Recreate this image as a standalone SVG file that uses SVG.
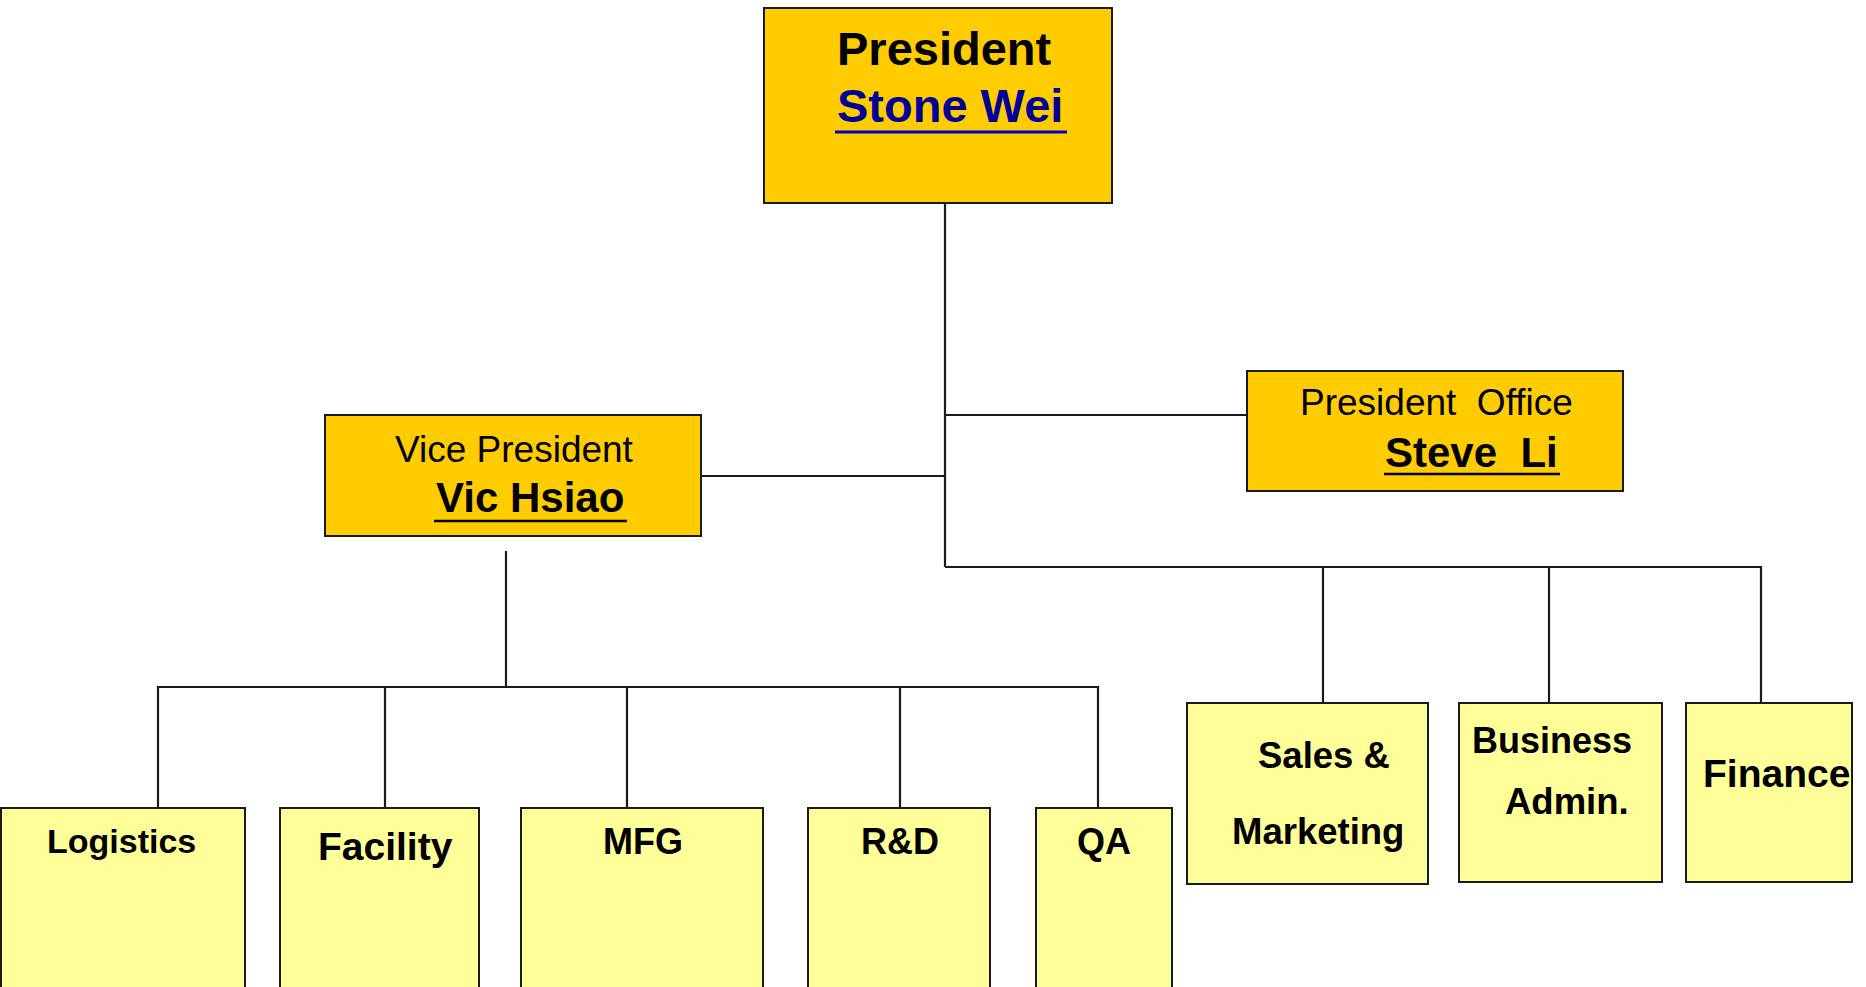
<svg xmlns="http://www.w3.org/2000/svg" width="1866" height="987" viewBox="0 0 1866 987">
<style>
.top{fill:#FFCC00;stroke:#1a1a1a;stroke-width:2}
.dept{fill:#FFFF99;stroke:#1a1a1a;stroke-width:2}
.c{fill:none;stroke:#1a1a1a;stroke-width:2.2}
text{font-family:"Liberation Sans",Arial,sans-serif;fill:#000}
.b{font-weight:bold}
.ul{stroke:#000;stroke-width:2.5}
</style>
<rect width="1866" height="987" fill="#fff"/>
<g id="connectors">
<path class="c" d="M945 203 V567"/>
<path class="c" d="M945 415 H1247"/>
<path class="c" d="M701 476 H945"/>
<path class="c" d="M945 567 H1761 V703"/>
<path class="c" d="M1323 567 V703"/>
<path class="c" d="M1549 567 V703"/>
<path class="c" d="M506 551 V687"/>
<path class="c" d="M158 808 V687 H1098 V808"/>
<path class="c" d="M385 687 V808"/>
<path class="c" d="M627 687 V808"/>
<path class="c" d="M900 687 V808"/>
</g>
<g id="president">
<rect class="top" x="764" y="8" width="348" height="195"/>
<text class="b" x="837" y="65" font-size="47">President</text>
<text class="b" x="837" y="122" font-size="47" style="fill:#000099">Stone Wei</text>
<line x1="835" y1="132" x2="1067" y2="132" stroke="#0000CC" stroke-width="3"/>
</g>
<g id="vice-president">
<rect class="top" x="325" y="415" width="376" height="121"/>
<text x="395" y="462" font-size="37">Vice President</text>
<text class="b" x="436" y="512" font-size="42">Vic Hsiao</text>
<line class="ul" x1="434" y1="521" x2="627" y2="521"/>
</g>
<g id="president-office">
<rect class="top" x="1247" y="371" width="376" height="120"/>
<text x="1300" y="415" font-size="37" xml:space="preserve">President  Office</text>
<text class="b" x="1385" y="467" font-size="42" xml:space="preserve">Steve  Li</text>
<line class="ul" x1="1384" y1="474" x2="1560" y2="474"/>
</g>
<g id="logistics">
<rect class="dept" x="1" y="808" width="244" height="200"/>
<text class="b" x="47" y="853" font-size="34">Logistics</text>
</g>
<g id="facility">
<rect class="dept" x="280" y="808" width="199" height="200"/>
<text class="b" x="318" y="860" font-size="39">Facility</text>
</g>
<g id="mfg">
<rect class="dept" x="521" y="808" width="242" height="200"/>
<text class="b" x="643" y="854" font-size="36" text-anchor="middle">MFG</text>
</g>
<g id="rd">
<rect class="dept" x="808" y="808" width="182" height="200"/>
<text class="b" x="900" y="854" font-size="36" text-anchor="middle">R&amp;D</text>
</g>
<g id="qa">
<rect class="dept" x="1036" y="808" width="136" height="200"/>
<text class="b" x="1104" y="854" font-size="36" text-anchor="middle">QA</text>
</g>
<g id="sales-marketing">
<rect class="dept" x="1187" y="703" width="241" height="181"/>
<text class="b" x="1258" y="768" font-size="36.5">Sales &amp;</text>
<text class="b" x="1232" y="844" font-size="36.5">Marketing</text>
</g>
<g id="business-admin">
<rect class="dept" x="1459" y="703" width="203" height="179"/>
<text class="b" x="1472" y="753" font-size="36">Business</text>
<text class="b" x="1505" y="814" font-size="36.5">Admin.</text>
</g>
<g id="finance">
<rect class="dept" x="1686" y="703" width="166" height="179"/>
<text class="b" x="1703" y="787" font-size="39">Finance</text>
</g>
</svg>
